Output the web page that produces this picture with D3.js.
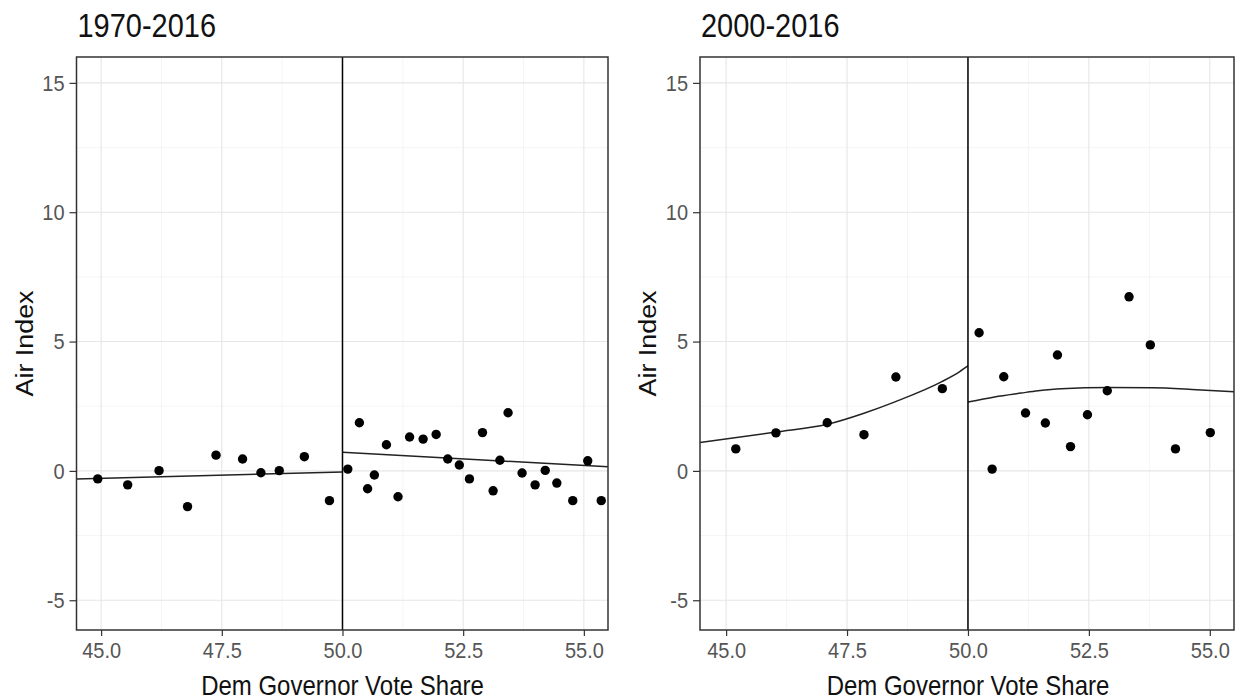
<!DOCTYPE html>
<html>
<head>
<meta charset="utf-8">
<style>
body {
  margin: 0;
  background: #ffffff;
  font-family: "Liberation Sans", Arial, sans-serif;
}

svg {
  display: block;
}

.grid-major line {
  stroke: #e6e6e6;
  stroke-width: 1.1;
}

.grid-minor line {
  stroke: #f2f2f2;
  stroke-width: 0.8;
}

.axis text {
  fill: #555555;
  font-size: 20px;
  font-family: "Liberation Sans", Arial, sans-serif;
}

.axis line {
  stroke: #333333;
  stroke-width: 1.2;
}

.axis path {
  display: none;
}

.title {
  font-size: 29px;
  fill: #111111;
}

.axis-title {
  font-size: 24px;
  fill: #111111;
}
</style>
</head>
<body>

<script src="https://cdnjs.cloudflare.com/ajax/libs/d3/7.8.5/d3.min.js"></script>
<script>
var titles = ['1970-2016', '2000-2016']
var xLabel = 'Dem Governor Vote Share'
var yLabel = 'Air Index'
var xTicks = [45, 47.5, 50, 52.5, 55]
var yTicks = [-5, 0, 5, 10, 15]
var cutoff = 50

// 1970-2016 binned means
var shareA = [44.93, 45.55, 46.20, 46.79, 47.38, 47.93, 48.31, 48.69, 49.21, 49.73,
  50.11, 50.35, 50.52, 50.66, 50.91, 51.15, 51.39, 51.67, 51.94, 52.18,
  52.42, 52.63, 52.90, 53.12, 53.26, 53.43, 53.72, 53.99, 54.20, 54.44,
  54.77, 55.08, 55.36]
var airA = [-0.31, -0.54, 0.01, -1.38, 0.61, 0.46, -0.07, 0.01, 0.55, -1.15,
  0.07, 1.86, -0.69, -0.16, 1.01, -1.00, 1.31, 1.23, 1.41, 0.46,
  0.23, -0.31, 1.48, -0.77, 0.41, 2.25, -0.08, -0.54, 0.02, -0.47,
  -1.15, 0.39, -1.15]

// 2000-2016 binned means
var shareB = [45.20, 46.03, 47.09, 47.85, 48.51, 49.47, 50.23, 50.50, 50.74, 51.19,
  51.60, 51.85, 52.12, 52.47, 52.88, 53.33, 53.77, 54.29, 55.01]
var airB = [0.85, 1.47, 1.86, 1.40, 3.63, 3.18, 5.34, 0.07, 3.64, 2.24,
  1.85, 4.48, 0.94, 2.17, 3.10, 6.73, 4.87, 0.85, 1.48]

// fitted lines, read along each side of the cutoff
var fitA_belowX = [44.49, 50]
var fitA_belowY = [-0.31, -0.04]
var fitA_aboveX = [50, 55.5]
var fitA_aboveY = [0.72, 0.16]

var fitB_belowX = [44.46, 46.03, 47.09, 47.85, 48.49, 49.46, 49.83, 50]
var fitB_belowY = [1.10, 1.50, 1.80, 2.23, 2.67, 3.45, 3.84, 4.06]
var fitB_aboveX = [50, 50.55, 51.1, 51.45, 51.93, 52.9, 53.8, 54.63, 55.5]
var fitB_aboveY = [2.66, 2.86, 3.01, 3.10, 3.18, 3.22, 3.21, 3.15, 3.06]

var width = 1240,
    height = 700,
    plotTop = 57,
    plotBottom = 630,
    stretch = 1.12   // the picture's text is a little taller than wide

var panels = [
  { title: titles[0], left: 76.5, right: 608, xDomain: [44.49, 55.5],
    xs: shareA, ys: airA,
    fits: [[fitA_belowX, fitA_belowY], [fitA_aboveX, fitA_aboveY]] },
  { title: titles[1], left: 700, right: 1234, xDomain: [44.46, 55.5],
    xs: shareB, ys: airB,
    fits: [[fitB_belowX, fitB_belowY], [fitB_aboveX, fitB_aboveY]] }
]

var svg = d3.select("body")
  .append("svg")
  .attr("width", width)
  .attr("height", height)

function midpoints(arr) {
  return d3.pairs(arr).map(function(p) { return (p[0] + p[1]) / 2 })
}

function hyphenFormat(d) {
  return String(d)
}

var y = d3.scaleLinear().domain([-6.15, 16]).range([plotBottom, plotTop])

panels.forEach(function(p) {
  var x = d3.scaleLinear().domain(p.xDomain).range([p.left, p.right])
  var g = svg.append("g")

  g.append("rect")
    .attr("x", p.left)
    .attr("y", plotTop)
    .attr("width", p.right - p.left)
    .attr("height", plotBottom - plotTop)
    .attr("fill", "#ffffff")

  // minor grid
  var minor = g.append("g").attr("class", "grid-minor")
  minor.selectAll(".vx").data(midpoints(xTicks))
    .enter().append("line")
    .attr("x1", function(d) { return x(d) })
    .attr("x2", function(d) { return x(d) })
    .attr("y1", plotTop)
    .attr("y2", plotBottom)
  minor.selectAll(".hy").data(midpoints(yTicks))
    .enter().append("line")
    .attr("x1", p.left)
    .attr("x2", p.right)
    .attr("y1", function(d) { return y(d) })
    .attr("y2", function(d) { return y(d) })

  // major grid
  var major = g.append("g").attr("class", "grid-major")
  major.selectAll(".vx").data(xTicks)
    .enter().append("line")
    .attr("x1", function(d) { return x(d) })
    .attr("x2", function(d) { return x(d) })
    .attr("y1", plotTop)
    .attr("y2", plotBottom)
  major.selectAll(".hy").data(yTicks)
    .enter().append("line")
    .attr("x1", p.left)
    .attr("x2", p.right)
    .attr("y1", function(d) { return y(d) })
    .attr("y2", function(d) { return y(d) })

  // fitted lines
  var line = d3.line()
    .x(function(d) { return x(d[0]) })
    .y(function(d) { return y(d[1]) })
    .curve(d3.curveMonotoneX)

  p.fits.forEach(function(f) {
    g.append("path")
      .datum(d3.zip(f[0], f[1]))
      .attr("d", line)
      .attr("fill", "none")
      .attr("stroke", "#222222")
      .attr("stroke-width", 1.5)
  })

  // cutoff
  g.append("line")
    .attr("x1", x(cutoff))
    .attr("x2", x(cutoff))
    .attr("y1", plotTop)
    .attr("y2", plotBottom)
    .attr("stroke", "#000000")
    .attr("stroke-width", 1.5)

  // points
  g.selectAll("circle")
    .data(d3.zip(p.xs, p.ys))
    .enter().append("circle")
    .attr("cx", function(d) { return x(d[0]) })
    .attr("cy", function(d) { return y(d[1]) })
    .attr("r", 4.7)
    .attr("fill", "#000000")

  // border
  g.append("rect")
    .attr("x", p.left)
    .attr("y", plotTop)
    .attr("width", p.right - p.left)
    .attr("height", plotBottom - plotTop)
    .attr("fill", "none")
    .attr("stroke", "#333333")
    .attr("stroke-width", 1.5)

  // axes
  var xAxis = g.append("g")
    .attr("class", "axis")
    .attr("transform", "translate(0," + plotBottom + ")")
    .call(d3.axisBottom(x).tickValues(xTicks).tickFormat(d3.format(".1f")).tickSize(6).tickPadding(5))
  xAxis.selectAll("text").attr("transform", "scale(1," + stretch + ")")

  var yAxis = g.append("g")
    .attr("class", "axis")
    .attr("transform", "translate(" + p.left + ",0)")
    .call(d3.axisLeft(y).tickValues(yTicks).tickFormat(hyphenFormat).tickSize(7).tickPadding(5))
  yAxis.selectAll("text").attr("transform", "scale(1," + stretch + ")")

  // titles
  g.append("text")
    .attr("class", "title")
    .attr("transform", "translate(" + (p.left + 1) + ",37) scale(1," + stretch + ")")
    .text(p.title)

  g.append("text")
    .attr("class", "axis-title")
    .attr("text-anchor", "middle")
    .attr("transform", "translate(" + x(cutoff) + ",695) scale(1," + stretch + ")")
    .text(xLabel)

  g.append("text")
    .attr("class", "axis-title")
    .attr("text-anchor", "middle")
    .attr("transform", "translate(" + (p.left - 44) + "," + ((plotTop + plotBottom) / 2) + ") rotate(-90) scale(" + stretch + ",1)")
    .text(yLabel)
})
</script>
</body>
</html>
